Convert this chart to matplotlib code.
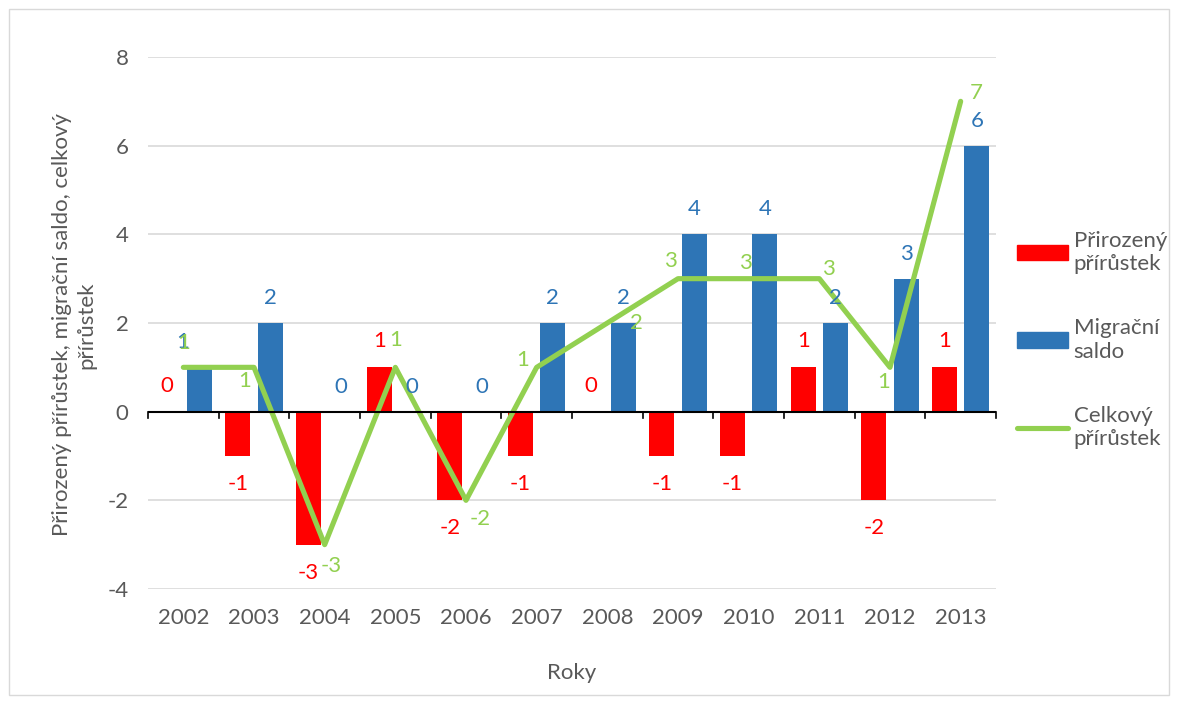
import numpy as np
import matplotlib
matplotlib.use("Agg")
import matplotlib.pyplot as plt
from matplotlib.patches import Rectangle, Patch
from matplotlib.lines import Line2D

years = ["2002", "2003", "2004", "2005", "2006", "2007",
         "2008", "2009", "2010", "2011", "2012", "2013"]
prirozeny = [0, -1, -3, 1, -2, -1, 0, -1, -1, 1, -2, 1]
migracni = [1, 2, 0, 0, 0, 2, 2, 4, 4, 2, 3, 6]
celkovy = [1, 1, -3, 1, -2, 1, 2, 3, 3, 3, 1, 7]

# label offsets for the line series (px right, px up), as placed in the source
green_off = [(0, 24), (-9, -14), (7, -21), (0, 27), (14, -19), (-14, 7),
             (29, 0), (-8, 18), (-3, 16), (9, 10), (-6, -15), (16, 8)]
# the first blue label sits under the green one in the source
blue_dx = [-17, 0, 0, 0, 0, 0, 0, 0, 0, 0, 0, 0]

RED = "#FF0000"
BLUE = "#2E75B6"
GREEN = "#92D050"
GRAY = "#595959"

plt.rcParams["font.family"] = ["Lato", "DejaVu Sans"]
plt.rcParams["axes.unicode_minus"] = False
FS = 16

fig = plt.figure(figsize=(11.77, 7.03), dpi=100)
ax = fig.add_axes([148 / 1177, 1 - 589 / 703, 848 / 1177, 532 / 703])

x = np.arange(len(years))
w = 0.355
off = 0.228
ax.bar(x - off, prirozeny, w, color=RED, zorder=2)
ax.bar(x + off, migracni, w, color=BLUE, zorder=2)
ax.plot(x, celkovy, color=GREEN, lw=3.7, zorder=3, solid_capstyle="round")

px = 0.72
for i, v in enumerate(prirozeny):
    dy = 26 if v >= 0 else -28
    ax.annotate(str(v), (x[i] - off, v), xytext=(0, dy * px), textcoords="offset points",
                ha="center", va="center", color=RED, fontsize=FS, zorder=4)
for i, v in enumerate(migracni):
    dy = 25 if v >= 0 else -27
    ax.annotate(str(v), (x[i] + off, v), xytext=(blue_dx[i] * px, dy * px), textcoords="offset points",
                ha="center", va="center", color=BLUE, fontsize=FS, zorder=4)
for i, v in enumerate(celkovy):
    dx, dy = green_off[i]
    ax.annotate(str(v), (x[i], v), xytext=(dx * px, dy * px), textcoords="offset points",
                ha="center", va="center", color=GREEN, fontsize=FS, zorder=5)

ax.set_xlim(-0.5, len(years) - 0.5)
ax.set_ylim(-4, 8)
ax.set_yticks(range(-4, 9, 2))
ax.grid(axis="y", color="#D9D9D9", lw=1.2, zorder=0)
ax.set_axisbelow(True)
for s in ["top", "right", "left", "bottom"]:
    ax.spines[s].set_visible(False)
ax.axhline(0, color="black", lw=1.5, zorder=3)
for b in np.arange(-0.5, len(years), 1.0):
    ax.plot([b, b], [0, -0.14], color="black", lw=1.2, zorder=3, clip_on=False)

ax.set_xticks(x)
ax.set_xticklabels(years)
ax.tick_params(axis="x", length=0, pad=14, labelsize=FS, labelcolor=GRAY)
ax.tick_params(axis="y", length=0, pad=14, labelsize=FS, labelcolor=GRAY)

ax.set_xlabel("Roky", fontsize=FS, color=GRAY, labelpad=25)
fig.text(74 / 1177, 1 - 325 / 703, "Přirozený přírůstek, migrační saldo, celkový\npřírůstek",
         rotation=90, ha="center", va="center", fontsize=FS, color=GRAY,
         linespacing=1.25, multialignment="center")

handles = [Patch(color=RED), Patch(color=BLUE),
           Line2D([], [], color=GREEN, lw=3.7, solid_capstyle="round")]
labels = ["Přirozený\npřírůstek", "Migrační\nsaldo", "Celkový\npřírůstek"]
leg = fig.legend(handles, labels, loc="center left", bbox_to_anchor=(1008 / 1177, 1 - 340 / 703),
                 frameon=False, fontsize=FS, handlelength=2.3, handletextpad=0.25,
                 labelspacing=2.0, borderaxespad=0)
for t in leg.get_texts():
    t.set_color(GRAY)

fig.add_artist(Rectangle((9 / 1177, 8 / 703), 1160 / 1177, 686 / 703, transform=fig.transFigure,
                         fill=False, edgecolor="#D9D9D9", lw=1))

fig.savefig("out.png", dpi=100)
